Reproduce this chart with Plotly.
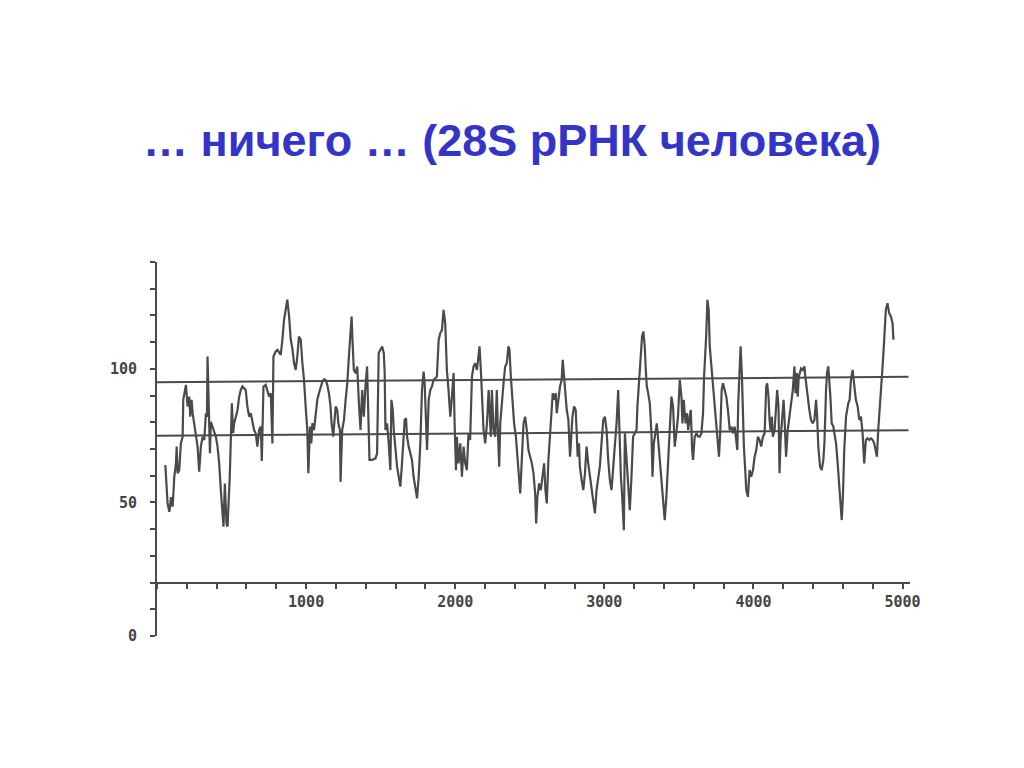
import plotly.graph_objects as go

title_text = "… ничего … (28S рРНК человека)"

# Position along the 28S rRNA (nucleotides) and plotted value
pos = [
    56, 71, 83, 94, 105, 116, 127, 132, 138, 149, 160, 172, 176, 187, 194, 205, 216, 223, 232, 239,
    250, 261, 272, 283, 294, 306, 317, 328, 335, 339, 346, 350, 355, 361, 372, 384, 395, 406, 417, 428,
    439, 446, 455, 462, 466, 473, 480, 488, 495, 502, 511, 517, 529, 540, 551, 562, 573, 584, 595, 606,
    618, 629, 640, 651, 662, 673, 685, 696,
    703, 714, 729, 741, 752, 763, 774, 781, 796, 808, 819, 830, 841, 852, 863, 874, 886, 897, 908, 919,
    930, 941, 952, 964, 975, 986, 997, 1008, 1015, 1026, 1035, 1042, 1053, 1064, 1075, 1086, 1097, 1109,
    1120, 1131, 1142, 1153, 1164, 1171, 1182, 1191, 1198, 1209, 1216, 1227, 1231, 1242, 1254, 1265, 1276,
    1287, 1298, 1305, 1311, 1320, 1332, 1343, 1354, 1365, 1376, 1387,
    1398, 1409, 1425, 1443, 1465, 1476, 1487, 1498, 1510, 1521, 1527, 1532, 1543, 1554, 1565, 1572, 1581,
    1588, 1599, 1610, 1621, 1632, 1643, 1654, 1661, 1670, 1677, 1688, 1699, 1710, 1721, 1733, 1744, 1755,
    1766, 1777, 1788, 1795, 1804, 1811, 1822, 1833, 1844, 1855, 1866, 1877, 1889, 1900, 1911, 1922, 1933,
    1938, 1944, 1955, 1967, 1978, 1989, 1996, 2005, 2011, 2022, 2034, 2045, 2056, 2067, 2078, 2089, 2100,
    2112, 2123, 2134, 2146, 2157, 2163, 2172, 2179, 2190, 2201, 2213, 2224, 2230, 2239, 2246, 2257, 2268,
    2279, 2286, 2295, 2302, 2313, 2324, 2335, 2346, 2357, 2364, 2373, 2380, 2386, 2395, 2407, 2413, 2424,
    2436, 2447, 2458, 2469, 2480, 2491, 2502, 2514, 2525, 2536, 2543, 2551, 2563, 2574, 2585, 2596, 2605,
    2614, 2625, 2636, 2643, 2654, 2663, 2674, 2681, 2692, 2703, 2714, 2721, 2730, 2737, 2748, 2759, 2770,
    2777, 2786, 2797, 2808,
    2814, 2821, 2830, 2836, 2848, 2859, 2870, 2881, 2892, 2903, 2915, 2926, 2937, 2948, 2959, 2970, 2981,
    2993, 3004, 3015, 3026, 3037, 3048, 3059, 3071, 3082, 3093, 3100, 3111, 3120, 3131, 3138, 3149, 3160,
    3171, 3182, 3193, 3204, 3216, 3222, 3231, 3238, 3245, 3253, 3262, 3271, 3278, 3285, 3294, 3305, 3316,
    3323, 3332, 3343, 3352, 3361, 3372, 3383, 3394, 3405, 3416, 3427, 3439, 3450, 3461, 3472, 3483, 3494,
    3506, 3517, 3524, 3533, 3539, 3546, 3555, 3562, 3573, 3580, 3589, 3595, 3606, 3618, 3629, 3640, 3651,
    3662, 3669, 3675, 3684, 3691, 3700, 3707, 3713, 3722, 3729, 3740, 3751, 3762, 3769, 3778, 3787, 3796,
    3807, 3818, 3829, 3841, 3852, 3863, 3874, 3885, 3892, 3898, 3907, 3914, 3923, 3930, 3936, 3945, 3952,
    3963, 3974, 3985, 3997, 4008, 4019, 4030, 4041, 4052, 4064, 4075, 4086, 4092, 4101, 4108, 4115, 4124,
    4130, 4142, 4153, 4159, 4168, 4175, 4182, 4191, 4202,
    4208, 4219, 4230, 4241, 4253, 4264, 4275, 4282, 4291, 4297, 4304, 4313, 4320, 4331, 4342, 4348, 4357,
    4364, 4375, 4386, 4398, 4409, 4420, 4427, 4435, 4447, 4458, 4469, 4476, 4487, 4493, 4502, 4509, 4516,
    4525, 4536, 4543, 4554, 4565, 4576, 4583, 4592, 4600, 4609, 4621, 4627, 4636, 4645, 4654, 4665, 4676,
    4687, 4699, 4710, 4721, 4732, 4743, 4754, 4765, 4777, 4788, 4799, 4810, 4821, 4828, 4837, 4844, 4855,
    4866, 4873, 4882, 4888, 4899, 4910, 4922, 4933, 4939,
]
val = [
    64, 49.6, 46.5, 52, 48.4, 59.6, 64.6, 70.9, 60.9, 62.1, 72.1, 74.6, 88.4, 92.1, 94, 85.9, 89.6, 82.1, 88.4, 83.4,
    79.6, 74.6, 70.9, 61.5, 70.9, 74.6, 73.4, 83.4, 82.1, 104.6, 82.1, 77.1, 68.4, 80.2, 78.4, 75.9, 74.6, 70.9, 64.6, 54.6,
    43.4, 40.9, 57.1, 48.4, 42.1, 40.9, 48.4, 59.6, 73.4, 87.1, 75.9, 79.6, 82.1, 84.6, 89.6, 92.1, 93.4, 92.7, 92.1, 85.9,
    82.1, 83.4, 79.6, 77.1, 75.9, 70.9, 77.1, 78.4,
    65.5, 93.4, 94, 92.1, 89.6, 90.9, 72.1, 104.6, 106.5, 107.1, 105.9, 105.2, 110.9, 118.4, 122.1, 125.9, 119.6, 110.9, 107.7, 102.1,
    99.6, 104.6, 112.1, 110.9, 102.1, 95.9, 85.9, 77.1, 60.9, 78.4, 72.1, 79.6, 77.1, 83.4, 88.4, 90.9, 93.4, 95.2,
    96.1, 95.9, 94, 90.9, 85.9, 79.6, 74.6, 82.1, 85.9, 84.6, 79.6, 77.1, 57.7, 77.1, 80.9, 88.4, 94.6,
    104.6, 117.1, 119.6, 110.9, 99.6, 98.4, 100.9, 87.1, 77.1, 92.1, 82.1,
    93.4, 100.9, 65.9, 65.9, 66.5, 68.4, 105.9, 107.1, 108.4, 105.9, 98.4, 77.1, 79.6, 72.1, 62.1, 88.4, 84.6,
    77.1, 69.6, 63.4, 59.6, 55.9, 64.6, 77.1, 80.9, 81.5, 74.6, 70.9, 68.4, 65.9, 59.6, 54.6, 51.5, 59.6,
    72.1, 92.1, 99, 94.6, 82.1, 69.6, 88.4, 92.1, 93.4, 95.9, 96.5, 97.1, 110.9, 113.4, 114.6, 122.1, 117.1,
    104.6, 99.6, 92.1, 82.1, 89.6, 98.4, 79.6, 62.1, 74.6, 64.6, 72.1, 59.6, 70.9, 64.6, 62.1, 75.9, 73.4,
    97.1, 100.9, 102.1, 99.6, 107.1, 108.4, 99.6, 92.1, 77.1, 72.1, 79.6, 92.1, 85.9, 74.6, 92.1, 77.1, 74.6,
    92.1, 77.1, 63.4, 79.6, 88.4, 94.6, 100.9, 102.1, 108.4, 107.1, 97.1, 92.1, 85.9, 79.6, 74.6, 70.9, 62.1,
    53.4, 69.6, 79.6, 82.1, 77.1, 69.6, 67.1, 64.6, 60.9, 53.4, 42.1, 52.1, 57.1, 54.6, 59.6, 64.6, 54.6,
    49.6, 65.9, 77.1, 84.6, 90.9, 88.4, 90.9, 83.4, 89.6, 93.4, 95.9, 103.4, 97.1, 92.1, 84.6, 80.9, 67.1,
    73.4, 82.1, 85.9, 84.6,
    77.1, 67.1, 72.1, 63.4, 58.4, 54.6, 60.9, 70.9, 64.6, 59.6, 54.6, 50.9, 45.9, 54.6, 59.6, 63.4, 72.1,
    80.9, 82.1, 77.1, 65.9, 58.4, 54.6, 62.1, 73.4, 79.6, 92.1, 77.1, 59.6, 52.1, 39.6, 75.9, 67.1, 54.6,
    47.1, 59.6, 74.6, 75.9, 77.1, 85.9, 93.4, 98.4, 104.6, 112.1, 114, 108.4, 99.6, 93.4, 90.9, 87.1, 75.9,
    59.6, 72.1, 77.1, 79.6, 73.4, 65.9, 59.6, 49.6, 43.4, 52.1, 64.6, 74.6, 89.6, 85.9, 70.9, 75.9, 82.1,
    95.9, 89.6, 79.6, 88.4, 83.4, 79.6, 83.4, 77.1, 82.1, 84.6, 69.6, 65.9, 74.6, 75.9, 74.6, 74.6, 75.9,
    83.4, 97.1, 102.1, 113.4, 125.9, 122.1, 108.4, 104.6, 97.1, 92.1, 84.6, 79.6, 73.4, 67.1, 77.1, 92.1, 94.6,
    92.1, 89.6, 84.6, 77.1, 78.4, 75.9, 78.4, 73.4, 69.6, 87.1, 98.4, 108.4, 97.1, 79.6, 70.9, 62.1, 54.6,
    52.1, 62.1, 59.6, 62.1, 67.1, 69.6, 74.6, 73.4, 70.9, 74.6, 75.9, 93.4, 94.6, 89.6, 80.9, 77.1, 82.1,
    74.6, 77.1, 85.9, 92.1, 85.9, 60.9, 73.4, 79.6, 88.4,
    82.1, 67.1, 77.1, 82.1, 88.4, 92.1, 100.9, 90.9, 98.4, 89.6, 97.1, 99.6, 100.2, 99.6, 100.9, 97.1, 92.1,
    88.4, 84.6, 80.9, 79.6, 80.9, 88.4, 82.1, 70.9, 63.4, 62.1, 65.9, 72.1, 92.1, 98.4, 100.9, 95.9, 89.6,
    79.6, 78.4, 75.9, 72.1, 64.6, 57.1, 52.1, 43.4, 52.1, 69.6, 82.1, 84.6, 87.1, 88.4, 95.9, 99.6, 94.6,
    88.4, 85.9, 80.9, 82.1, 75.9, 64.6, 73.4, 74, 73.4, 74, 73.4, 72.1, 69.6, 67.1, 77.1, 82.1, 92.1,
    100.9, 107.1, 117.1, 122.1, 124.6, 120.9, 119.6, 117.1, 110.9,
]

# Two horizontal reference levels (scan is slightly tilted)
ref_x = [0, 5040]
upper_level = [95, 97]
lower_level = [75, 77]

y_tick_vals = list(range(0, 141, 10))
y_tick_text = ["0" if v == 0 else "50" if v == 50 else "100" if v == 100 else "" for v in y_tick_vals]
x_tick_vals = list(range(0, 5001, 200))
x_tick_text = [str(v) if v in (1000, 2000, 3000, 4000, 5000) else "" for v in x_tick_vals]

ink = "#4a4a4a"

fig = go.Figure()
fig.add_trace(go.Scatter(x=pos, y=val, mode="lines", line=dict(color=ink, width=2.2), hoverinfo="skip"))
fig.add_trace(go.Scatter(x=ref_x, y=upper_level, mode="lines", line=dict(color=ink, width=2), hoverinfo="skip"))
fig.add_trace(go.Scatter(x=ref_x, y=lower_level, mode="lines", line=dict(color=ink, width=2), hoverinfo="skip"))

tick_font = dict(family="DejaVu Sans Mono", size=15, color="#444444", weight="bold")

fig.update_layout(
    width=1008, height=752,
    margin=dict(l=149, r=106, t=254, b=124),
    paper_bgcolor="white", plot_bgcolor="white",
    showlegend=False,
    title=dict(text=title_text, x=0.5, xanchor="center", xref="container",
               y=1 - 132 / 752, yanchor="middle", yref="container",
               font=dict(family="Liberation Sans, Arial, sans-serif", size=45, color="#3434C8", weight="bold")),
    xaxis=dict(range=[0, 5050], anchor="free", position=20 / 140,
               showline=True, linecolor=ink, linewidth=2,
               ticks="outside", ticklen=5, tickwidth=2, tickcolor=ink,
               tickvals=x_tick_vals, ticktext=x_tick_text, tickfont=tick_font,
               showgrid=False, zeroline=False),
    yaxis=dict(range=[0, 140],
               showline=True, linecolor=ink, linewidth=2,
               ticks="outside", ticklen=5, tickwidth=2, tickcolor=ink,
               tickvals=y_tick_vals, ticktext=y_tick_text, tickfont=tick_font,
               ticklabelstandoff=10,
               showgrid=False, zeroline=False),
)

fig.write_html("out.html", config={"displayModeBar": False})
